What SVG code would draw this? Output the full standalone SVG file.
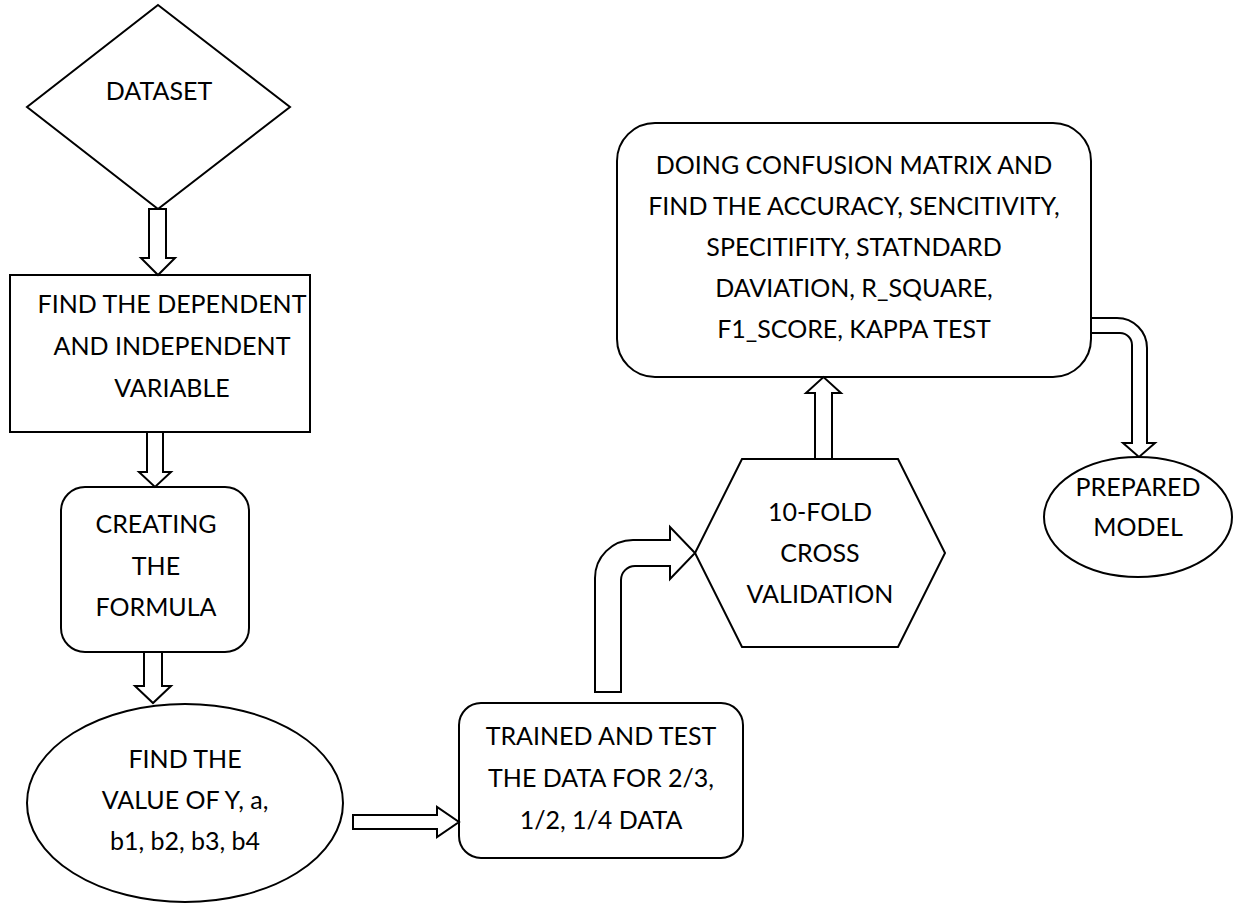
<svg xmlns="http://www.w3.org/2000/svg" width="1238" height="903" viewBox="0 0 1238 903">
  <style>
    .shape { fill: #ffffff; stroke: #000000; stroke-width: 2; }
    .arrow { fill: #ffffff; stroke: #000000; stroke-width: 2; stroke-linejoin: miter; }
    .label { font-family: Lato, "Open Sans", "Liberation Sans", sans-serif; font-size: 25px; fill: #000000; text-anchor: middle; }
  </style>
  <rect width="1238" height="903" fill="#ffffff"/>

  <g id="node-dataset">
    <polygon class="shape" points="158,5 290,107 158,209 27,107"/>
    <text class="label" x="159" y="100">DATASET</text>
  </g>

  <g id="node-variables">
    <rect class="shape" x="10" y="275" width="300" height="157"/>
    <text class="label" x="172" y="313">FIND THE DEPENDENT</text>
    <text class="label" x="172" y="355">AND INDEPENDENT</text>
    <text class="label" x="172" y="397">VARIABLE</text>
  </g>

  <g id="node-formula">
    <rect class="shape" x="61" y="487" width="188" height="165" rx="24" ry="24"/>
    <text class="label" x="156" y="533">CREATING</text>
    <text class="label" x="156" y="575">THE</text>
    <text class="label" x="156" y="616">FORMULA</text>
  </g>

  <g id="node-values">
    <ellipse class="shape" cx="185" cy="803" rx="158" ry="99"/>
    <text class="label" x="185" y="768">FIND THE</text>
    <text class="label" x="185" y="809">VALUE OF Y, a,</text>
    <text class="label" x="185" y="850">b1, b2, b3, b4</text>
  </g>

  <g id="node-train-test">
    <rect class="shape" x="459" y="703" width="284" height="155" rx="22" ry="22"/>
    <text class="label" x="601" y="745">TRAINED AND TEST</text>
    <text class="label" x="601" y="787">THE DATA FOR 2/3,</text>
    <text class="label" x="601" y="829">1/2, 1/4 DATA</text>
  </g>

  <g id="node-cross-validation">
    <polygon class="shape" points="742,459 898,459 945,553 898,647 742,647 695,553"/>
    <text class="label" x="820" y="521">10-FOLD</text>
    <text class="label" x="820" y="562">CROSS</text>
    <text class="label" x="820" y="603">VALIDATION</text>
  </g>

  <g id="node-metrics">
    <rect class="shape" x="617" y="123" width="474" height="254" rx="38" ry="38"/>
    <text class="label" x="854" y="174">DOING CONFUSION MATRIX AND</text>
    <text class="label" x="854" y="215">FIND THE ACCURACY, SENCITIVITY,</text>
    <text class="label" x="854" y="256">SPECITIFITY, STATNDARD</text>
    <text class="label" x="854" y="297">DAVIATION, R_SQUARE,</text>
    <text class="label" x="854" y="338">F1_SCORE, KAPPA TEST</text>
  </g>

  <g id="node-model">
    <ellipse class="shape" cx="1138" cy="517" rx="94" ry="60"/>
    <text class="label" x="1138" y="496">PREPARED</text>
    <text class="label" x="1138" y="536">MODEL</text>
  </g>

  <g id="connectors">
    <!-- block arrows between steps -->
    <path class="arrow" d="M149,209 H166 V258 H175 L158,275 L141,258 H149 Z"/>
    <path class="arrow" d="M147,432 H163 V472 H171 L155,487 L139,472 H147 Z"/>
    <path class="arrow" d="M144,652 H162 V686 H171 L153,703 L135,686 H144 Z"/>
    <path class="arrow" d="M353,815 H437 V807 L459,822 L437,837 V829 H353 Z"/>
    <path class="arrow" d="M595,692 V578 A38,38 0 0 1 633,540 H670 V527 L695,553 L670,579 V566 H635 A14,14 0 0 0 621,580 V692 Z"/>
    <path class="arrow" d="M815,459 V393 H806 L823.5,377 L841,393 H832 V459 Z"/>
    <path class="arrow" d="M1091,318 H1117 A30,30 0 0 1 1147,348 V443 H1155 L1139,457 L1123,443 H1132 V345 A12,12 0 0 0 1120,333 H1091 Z"/>
  </g>
</svg>
